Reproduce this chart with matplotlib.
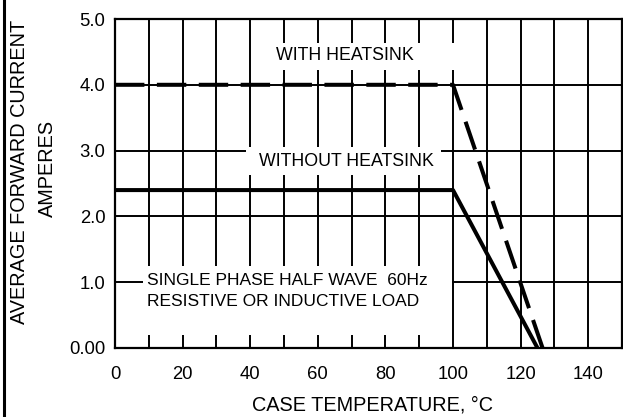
import matplotlib
matplotlib.use('Agg')
import matplotlib.pyplot as plt
from matplotlib.patches import Rectangle
from matplotlib.lines import Line2D

plt.rcParams['font.family'] = ['Liberation Sans', 'DejaVu Sans']

# derating curves
temp_with = [0, 100, 126.5]
amps_with = [4.0, 4.0, 0.0]
temp_without = [0, 100, 125.0]
amps_without = [2.4, 2.4, 0.0]

xticks = list(range(0, 151, 10))
xticklabels = [str(t) if t % 20 == 0 and t < 150 else '' for t in xticks]
yticks = [0, 1, 2, 3, 4, 5]
yticklabels = ['0.00', '1.0', '2.0', '3.0', '4.0', '5.0']

tick_fs = 13.3
note_fs = 12.8
label_fs = 14.3

fig = plt.figure(figsize=(6.23, 4.17), dpi=100)
ax = fig.add_axes([115 / 623, 1 - 348 / 417, 507 / 623, 329 / 417])

ax.set_xlim(0, 150)
ax.set_ylim(0, 5)
ax.set_xticks(xticks)
ax.set_xticklabels(xticklabels, fontsize=tick_fs)
ax.set_yticks(yticks)
ax.set_yticklabels(yticklabels, fontsize=tick_fs)
ax.tick_params(length=0)
ax.tick_params(axis='x', pad=13)
ax.tick_params(axis='y', pad=7)
ax.set_axisbelow(True)
ax.grid(True, color='black', lw=1.4)
for s in ax.spines.values():
    s.set_linewidth(1.6)

# white label backgrounds that break the grid
for x0, x1, y0, y1 in [(43.5, 103.5, 4.22, 4.64),
                       (38.7, 96.4, 2.63, 3.05),
                       (8.3, 99.7, 0.2, 1.25)]:
    ax.add_patch(Rectangle((x0, y0), x1 - x0, y1 - y0, facecolor='white',
                           edgecolor='none', zorder=1))

ax.plot(temp_with, amps_with, color='black', lw=2.9, ls=(0, (7.3, 3.1)),
        solid_capstyle='butt', dash_capstyle='butt', zorder=4)
ax.plot(temp_without, amps_without, color='black', lw=2.9, zorder=4)

ax.text(47.5, 4.45, 'WITH HEATSINK', fontsize=note_fs, va='center', zorder=3)
ax.text(42.5, 2.83, 'WITHOUT HEATSINK', fontsize=note_fs, va='center', zorder=3)
ax.text(9.5, 1.02, 'SINGLE PHASE HALF WAVE  60Hz', fontsize=12.5, va='center', zorder=3)
ax.text(9.5, 0.70, 'RESISTIVE OR INDUCTIVE LOAD', fontsize=12.5, va='center', zorder=3)

fig.text(20 / 623, 1 - 172 / 417, 'AVERAGE FORWARD CURRENT', rotation=90,
         ha='center', va='center', fontsize=label_fs)
fig.text(47 / 623, 1 - 168 / 417, 'AMPERES', rotation=90,
         ha='center', va='center', fontsize=label_fs)
fig.text(372 / 623, 1 - 405 / 417, 'CASE TEMPERATURE, \u00b0C',
         ha='center', va='center', fontsize=label_fs)

# left edge of the original frame
fig.add_artist(Line2D([3.5 / 623, 3.5 / 623], [0, 1], color='black', lw=2.2,
                      transform=fig.transFigure))

fig.savefig('out.png', dpi=100)
